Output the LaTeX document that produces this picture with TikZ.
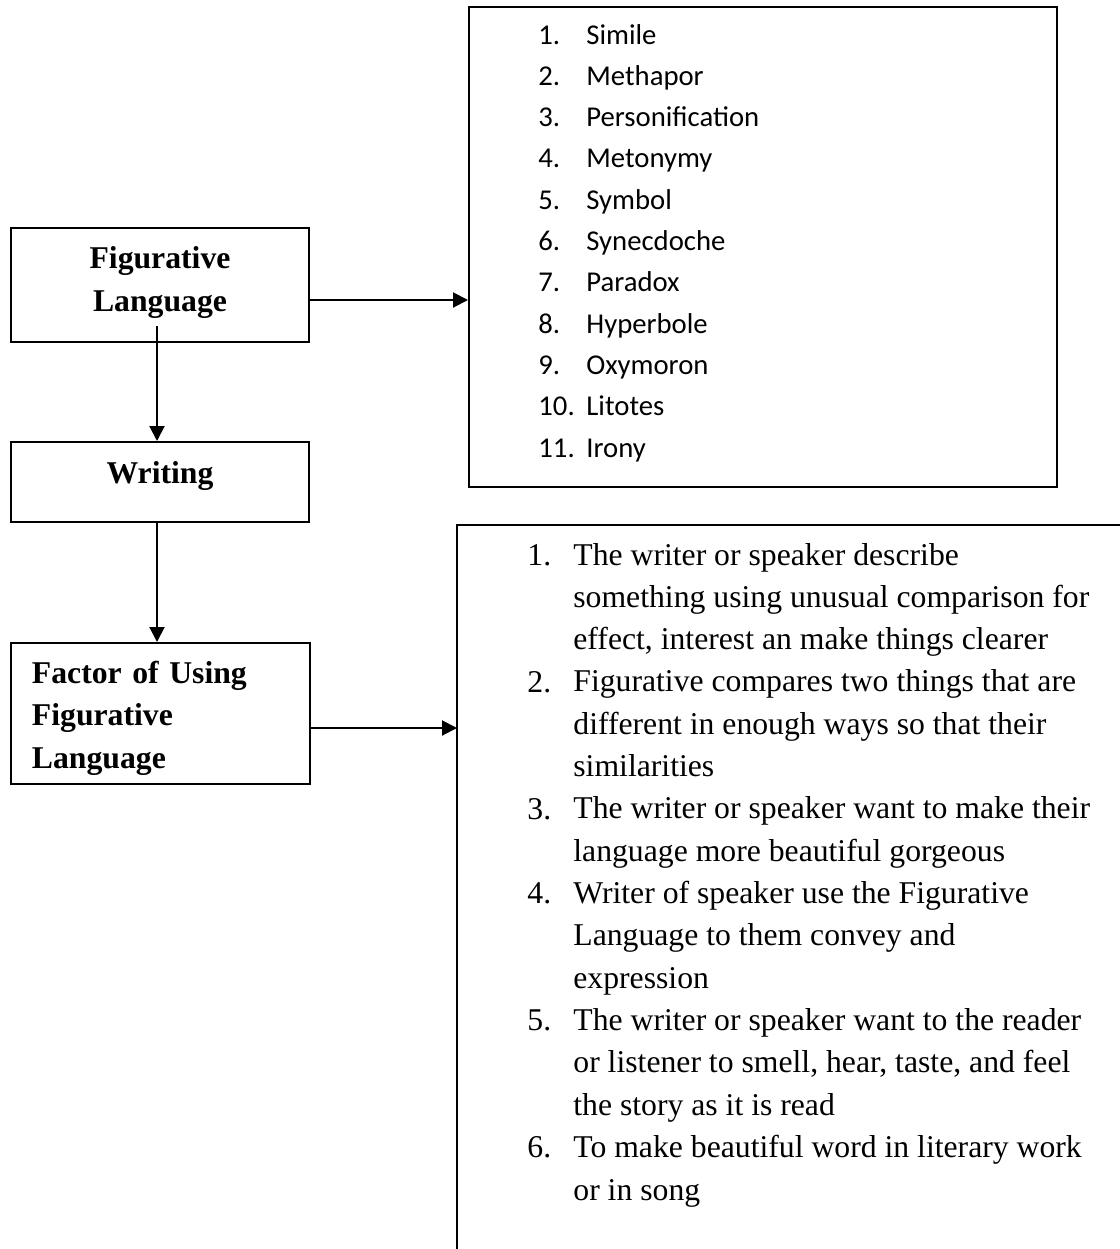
\documentclass[tikz,border=0pt]{standalone}
\usepackage{fontspec}
\setmainfont{Liberation Serif}
\newfontfamily\calibrifont{Carlito}
\usetikzlibrary{arrows.meta}

\tikzset{
  box/.style={draw, line width=1pt, inner sep=0pt},
  boxtext/.style={font=\bfseries\fontsize{15.85}{21.4}\selectfont},
  link/.style={line width=1pt, -{Triangle[length=7.5pt,width=7.5pt]}},
  frame/.style={line width=1pt},
  typetext/.style={font=\calibrifont\fontsize{14.35}{20}\selectfont, inner sep=0pt, anchor=base west},
  reasontext/.style={font=\fontsize{15.85}{21.17}\selectfont, inner sep=0pt, anchor=base west, align=left}
}

\begin{document}
\begin{tikzpicture}[x=0.5pt,y=-0.5pt]
\useasboundingbox (0,0) rectangle (1120,1249);

% left column
\node[box, boxtext, minimum width=149pt, minimum height=57pt, align=center,
      text height=32.5pt, text depth=6.5pt] (fig) at (160,285) {Figurative\\Language};
\node[box, boxtext, minimum width=149pt, minimum height=40pt,
      text height=11pt, text depth=10pt] (writing) at (160,482) {Writing};
\node[box, boxtext, minimum width=149.5pt, minimum height=70.5pt, text width=128.5pt, align=left,
      text height=11pt, text depth=41.5pt] (factor) at (160.5,713.5) {Factor of Using\\Figurative\\Language};

% kinds of figurative language
\node[box, minimum width=294pt, minimum height=240pt] (types) at (763,247) {};
\foreach \n/\kind in {1/Simile, 2/Methapor, 3/Personification, 4/Metonymy, 5/Symbol,
    6/Synecdoche, 7/Paradox, 8/Hyperbole, 9/Oxymoron, 10/Litotes, 11/Irony} {
  \node[typetext] (tnum\n) at (538,{44+41.3*(\n-1)}) {\n.};
  \node[typetext] (type\n) at (586,{44+41.3*(\n-1)}) {\kind};
}

% factors, open frame
\coordinate (reasons) at (457,525);
\draw[frame] (1120,525) -- (reasons) -- (457,1249);

% numbers sit on the first line, texts on their last line
\node[reasontext] (rnum1) at (527,565) {1.};
\node[reasontext] (reason1) at (573,649.7) {The writer or speaker describe\\something using unusual comparison for\\effect, interest an make things clearer};
\node[reasontext] (rnum2) at (527,692) {2.};
\node[reasontext] (reason2) at (573,776.6) {Figurative compares two things that are\\different in enough ways so that their\\similarities};
\node[reasontext] (rnum3) at (527,819) {3.};
\node[reasontext] (reason3) at (573,861.3) {The writer or speaker want to make their\\language more beautiful gorgeous};
\node[reasontext] (rnum4) at (527,903.6) {4.};
\node[reasontext] (reason4) at (573,988.3) {Writer of speaker use the Figurative\\Language to them convey and\\expression};
\node[reasontext] (rnum5) at (527,1030.6) {5.};
\node[reasontext] (reason5) at (573,1115.3) {The writer or speaker want to the reader\\or listener to smell, hear, taste, and feel\\the story as it is read};
\node[reasontext] (rnum6) at (527,1157.6) {6.};
\node[reasontext] (reason6) at (573,1200) {To make beautiful word in literary work\\or in song};

% arrows
\coordinate (figfoot) at ([shift={(-3,-17)}]fig.south);
\draw[link] (figfoot) -- (figfoot |- writing.north);
\draw[link] (writing.south -| figfoot) -- (factor.north -| figfoot);
\draw[link] ([shift={(0,15)}]fig.east) -- ([shift={(0,15)}]fig.east -| types.west);
\draw[link] ([shift={(0,14.5)}]factor.east) -- ([shift={(0,14.5)}]factor.east -| reasons);

\end{tikzpicture}
\end{document}
